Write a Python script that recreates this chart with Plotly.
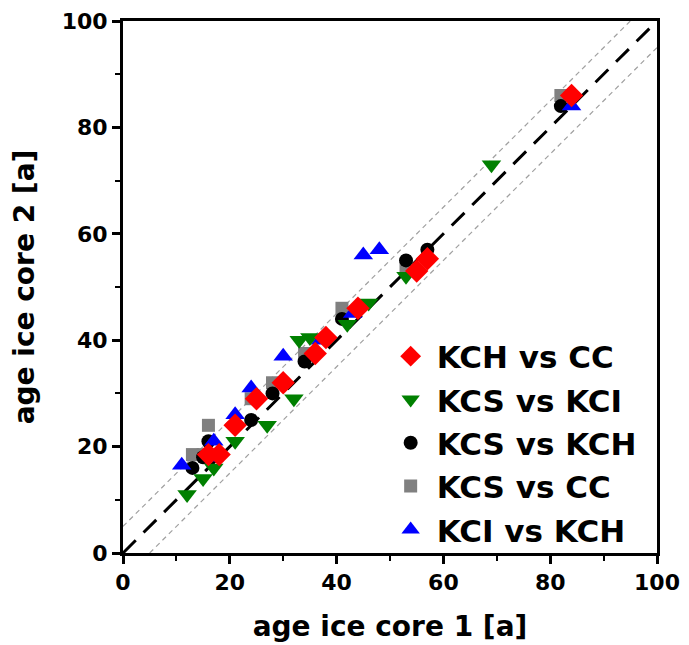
import plotly.graph_objects as go

# KCH vs CC
kch_cc_x = [16, 18, 21, 25, 30, 36, 38, 44, 55, 57, 84]
kch_cc_y = [18.5, 18.5, 24, 29, 32, 37.5, 40.5, 46, 53, 55.3, 86]
# KCS vs KCI
kcs_kci_x = [12, 15, 17, 21, 27, 32, 33, 35, 42, 46, 53, 69]
kcs_kci_y = [11, 14, 16, 21, 24, 29, 40, 40.5, 43, 47, 52, 73]
# KCS vs KCH
kcs_kch_x = [13, 15, 16, 24, 28, 34, 41, 53, 57, 82]
kcs_kch_y = [16, 18, 21, 25, 30, 36, 44, 55, 57, 84]
# KCS vs CC
kcs_cc_x = [13, 15, 16, 24, 28, 34, 41, 53, 82]
kcs_cc_y = [18.5, 18.5, 24, 29, 32, 37.5, 46, 53.5, 86]
# KCI vs KCH
kci_kch_x = [11, 17, 17, 21, 24, 30, 37, 43, 45, 48, 84]
kci_kch_y = [16.5, 18, 21, 26, 31, 37, 40, 45, 56, 57, 84]

# reference lines: 1:1 and +/- 5 a
line_range = [0, 100]
band_offset = 5

FONT = "DejaVu Sans"

fig = go.Figure()

# reference lines
fig.add_trace(go.Scatter(x=line_range, y=line_range, mode="lines",
                         line=dict(color="black", width=3, dash="18px,11px"),
                         showlegend=False, hoverinfo="skip"))
fig.add_trace(go.Scatter(x=[line_range[0], line_range[1] - band_offset],
                         y=[line_range[0] + band_offset, line_range[1]], mode="lines",
                         line=dict(color="#a0a0a0", width=1.2, dash="5px,4px"),
                         showlegend=False, hoverinfo="skip"))
fig.add_trace(go.Scatter(x=[line_range[0] + band_offset, line_range[1]],
                         y=[line_range[0], line_range[1] - band_offset], mode="lines",
                         line=dict(color="#a0a0a0", width=1.2, dash="5px,4px"),
                         showlegend=False, hoverinfo="skip"))

series = [
    ("KCS vs CC", kcs_cc_x, kcs_cc_y, "square", "#808080", 13, 4),
    ("KCS vs KCH", kcs_kch_x, kcs_kch_y, "circle", "black", 14, 3),
    ("KCI vs KCH", kci_kch_x, kci_kch_y, "triangle-up", "blue", 17, 5),
    ("KCS vs KCI", kcs_kci_x, kcs_kci_y, "triangle-down", "green", 17, 2),
    ("KCH vs CC", kch_cc_x, kch_cc_y, "diamond", "red", 18, 1),
]
for name, xs, ys, sym, col, sz, rank in series:
    fig.add_trace(go.Scatter(x=xs, y=ys, mode="markers", name=name,
                             legendrank=rank,
                             marker=dict(symbol=sym, color=col, size=sz,
                                         line=dict(width=0))))

axis_common = dict(
    range=[0, 100], dtick=20, tick0=0, automargin=False,
    ticklabeloverflow="allow",
    showgrid=False, zeroline=False,
    showline=True, linecolor="black", linewidth=3, mirror=True,
    ticks="outside", ticklen=8, tickwidth=3, tickcolor="black",
    tickfont=dict(family=FONT, size=22, color="black", weight="bold"),
    minor=dict(dtick=10, ticks="outside", ticklen=5, tickwidth=2, tickcolor="black"),
)

fig.update_layout(
    width=689, height=645,
    margin=dict(l=115, r=40, t=13, b=100),
    plot_bgcolor="white", paper_bgcolor="white",
    font=dict(family=FONT, color="black"),
    xaxis=dict(**axis_common,
               title=dict(text="age ice core 1 [a]", standoff=22,
                          font=dict(family=FONT, size=28, color="black", weight="bold"))),
    yaxis=dict(**axis_common,
               title=dict(text="age ice core 2 [a]", standoff=30,
                          font=dict(family=FONT, size=28, color="black", weight="bold"))),
    legend=dict(x=0.49, y=0.42, xanchor="left", yanchor="top",
                bgcolor="rgba(0,0,0,0)",
                font=dict(family=FONT, size=31, color="black", weight="bold"),
                itemwidth=42),
)

fig.write_html("out.html")
